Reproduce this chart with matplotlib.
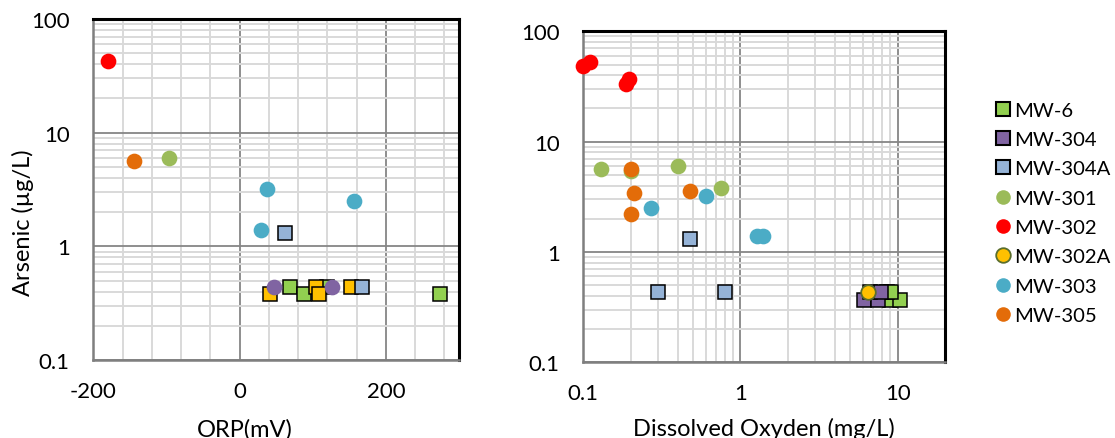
import matplotlib
matplotlib.use("Agg")
import matplotlib.pyplot as plt
from matplotlib.ticker import FixedLocator, NullFormatter, FixedFormatter
from matplotlib.lines import Line2D

plt.rcParams['font.family'] = ['Lato', 'DejaVu Sans']

# ---------------- data ----------------
# ORP (mV) vs arsenic (ug/L)
orp_mw302 = [-180]
as_orp_mw302 = [43]
orp_mw305 = [-145]
as_orp_mw305 = [5.6]
orp_mw301 = [-97]
as_orp_mw301 = [6.0]
orp_mw303 = [38, 156, 29]
as_orp_mw303 = [3.2, 2.5, 1.4]
orp_mw304a = [62, 167]
as_orp_mw304a = [1.3, 0.44]
orp_mw304 = [47, 126]
as_orp_mw304 = [0.44, 0.44]
orp_mw6 = [69, 88, 119, 274]
as_orp_mw6 = [0.44, 0.38, 0.44, 0.38]
orp_mw302a = [41, 105, 108, 153]
as_orp_mw302a = [0.38, 0.44, 0.38, 0.44]

# Dissolved oxygen (mg/L) vs arsenic (ug/L)
do_mw6 = [8.9, 10.3, 8.6, 9.1]
as_do_mw6 = [0.37, 0.37, 0.43, 0.43]
do_mw304 = [6.1, 7.5, 6.7, 7.8]
as_do_mw304 = [0.37, 0.37, 0.43, 0.43]
do_mw304a = [0.48, 0.3, 0.8]
as_do_mw304a = [1.3, 0.43, 0.43]
do_mw301 = [0.13, 0.2, 0.4, 0.75]
as_do_mw301 = [5.6, 5.4, 6.0, 3.8]
do_mw302 = [0.10, 0.11, 0.186, 0.194]
as_do_mw302 = [48, 53, 33, 37]
do_mw302a = [6.5]
as_do_mw302a = [0.43]
do_mw303 = [0.27, 0.6, 1.28, 1.39]
as_do_mw303 = [2.5, 3.2, 1.4, 1.4]
do_mw305 = [0.2, 0.21, 0.2, 0.48]
as_do_mw305 = [5.6, 3.4, 2.2, 3.6]

wells = ['MW-6', 'MW-304', 'MW-304A', 'MW-301', 'MW-302', 'MW-302A', 'MW-303', 'MW-305']
colors = {
    'MW-6': '#92d050', 'MW-304': '#8064a2', 'MW-304A': '#95b3d7',
    'MW-301': '#9bbb59', 'MW-302': '#ff0000', 'MW-302A': '#ffc000',
    'MW-303': '#4bacc6', 'MW-305': '#e36c09',
}

y_ticks = [0.1, 1, 10, 100]
y_ticklabels = ['0.1', '1', '10', '100']
orp_ticks = [-200, 0, 200]
orp_ticklabels = ['-200', '0', '200']
do_ticks = [0.1, 1, 10]
do_ticklabels = ['0.1', '1', '10']

# ---------------- style ----------------
TICK_FS = 16
LABEL_FS = 17
LEGEND_FS = 14.6
MAJOR_GRID = '#868686'
MINOR_GRID = '#d9d9d9'
SQ = dict(marker='s', markersize=10.3, markeredgecolor='black', markeredgewidth=1.1, linestyle='none')
CI = dict(marker='o', markersize=11.3, markeredgewidth=0, linestyle='none')

fig = plt.figure(figsize=(11.15, 4.39), dpi=100)
W, H = 1115, 439


def px_axes(x0, y0, x1, y1):
    return fig.add_axes([x0 / W, 1 - y1 / H, (x1 - x0) / W, (y1 - y0) / H])


def style_axes(ax):
    ax.set_yscale('log')
    ax.set_ylim(0.1, 100)
    ax.yaxis.set_major_locator(FixedLocator(y_ticks))
    ax.yaxis.set_major_formatter(FixedFormatter(y_ticklabels))
    ax.yaxis.set_minor_locator(FixedLocator([m * 10.0 ** e for e in (-1, 0, 1) for m in range(2, 10)]))
    ax.yaxis.set_minor_formatter(NullFormatter())
    ax.grid(True, which='minor', color=MINOR_GRID, linewidth=1.4, zorder=0)
    ax.grid(True, which='major', color=MAJOR_GRID, linewidth=1.3, zorder=0.5)
    ax.set_axisbelow(True)
    ax.tick_params(which='both', length=0, labelsize=TICK_FS, colors='black')
    ax.tick_params(axis='y', pad=17)
    ax.tick_params(axis='x', pad=15)
    for side in ('top', 'right'):
        ax.spines[side].set_color('black')
        ax.spines[side].set_linewidth(2.2)
    for side in ('left', 'bottom'):
        ax.spines[side].set_color('#7f7f7f')
        ax.spines[side].set_linewidth(1.8)


# ---------------- left: ORP ----------------
ax1 = px_axes(93.3, 20, 459, 361)
style_axes(ax1)
ax1.set_xlim(-200, 300)
ax1.xaxis.set_major_locator(FixedLocator(orp_ticks))
ax1.xaxis.set_major_formatter(FixedFormatter(orp_ticklabels))
ax1.xaxis.set_minor_locator(FixedLocator([-160, -120, -80, -40, 40, 80, 120, 160, 240, 280]))
ax1.xaxis.set_minor_formatter(NullFormatter())

ax1.plot(orp_mw6, as_orp_mw6, color=colors['MW-6'], zorder=3, **SQ)
ax1.plot(orp_mw302a, as_orp_mw302a, color=colors['MW-302A'], zorder=3.1, **SQ)
ax1.plot(orp_mw304a, as_orp_mw304a, color=colors['MW-304A'], zorder=3.2, **SQ)
ax1.plot(orp_mw304, as_orp_mw304, color=colors['MW-304'], zorder=4, **CI)
ax1.plot(orp_mw301, as_orp_mw301, color=colors['MW-301'], zorder=4, **CI)
ax1.plot(orp_mw302, as_orp_mw302, color=colors['MW-302'], zorder=4, **CI)
ax1.plot(orp_mw303, as_orp_mw303, color=colors['MW-303'], zorder=4, **CI)
ax1.plot(orp_mw305, as_orp_mw305, color=colors['MW-305'], zorder=4, **CI)

# ---------------- right: dissolved oxygen ----------------
ax2 = px_axes(583.3, 32.3, 945, 363.3)
style_axes(ax2)
ax2.set_xscale('log')
ax2.set_xlim(0.1, 20)
ax2.xaxis.set_major_locator(FixedLocator(do_ticks))
ax2.xaxis.set_major_formatter(FixedFormatter(do_ticklabels))
ax2.xaxis.set_minor_locator(FixedLocator([m * 10.0 ** e for e in (-1, 0) for m in range(2, 10)]))
ax2.xaxis.set_minor_formatter(NullFormatter())

h = {}
h['MW-6'], = ax2.plot(do_mw6, as_do_mw6, color=colors['MW-6'], zorder=3, label='MW-6', **SQ)
h['MW-304'], = ax2.plot(do_mw304, as_do_mw304, color=colors['MW-304'], zorder=3.1, label='MW-304', **SQ)
h['MW-304A'], = ax2.plot(do_mw304a, as_do_mw304a, color=colors['MW-304A'], zorder=3.2, label='MW-304A', **SQ)
h['MW-301'], = ax2.plot(do_mw301, as_do_mw301, color=colors['MW-301'], zorder=4, label='MW-301', **CI)
h['MW-302'], = ax2.plot(do_mw302, as_do_mw302, color=colors['MW-302'], zorder=4, label='MW-302', clip_on=False, **CI)
h['MW-302A'], = ax2.plot(do_mw302a, as_do_mw302a, color=colors['MW-302A'], zorder=4.5, label='MW-302A',
                         marker='o', markersize=10.5, markeredgecolor='#5a6e2c', markeredgewidth=1.3, linestyle='none')
h['MW-303'], = ax2.plot(do_mw303, as_do_mw303, color=colors['MW-303'], zorder=4, label='MW-303', **CI)
h['MW-305'], = ax2.plot(do_mw305, as_do_mw305, color=colors['MW-305'], zorder=4.2, label='MW-305', **CI)

# ---------------- labels ----------------
fig.text(23 / W, 1 - 223 / H, 'Arsenic (µg/L)', rotation=90, ha='center', va='center', fontsize=LABEL_FS)
fig.text(244.7 / W, 1 - 436.5 / H, 'ORP(mV)', ha='center', va='baseline', fontsize=LABEL_FS)
fig.text(764 / W, 1 - 436.5 / H, 'Dissolved Oxyden (mg/L)', ha='center', va='baseline', fontsize=LABEL_FS)

# ---------------- legend ----------------
leg_handles = []
for w in wells:
    src = h[w]
    is_sq = src.get_marker() == 's'
    leg_handles.append(Line2D([], [], linestyle='none', marker=src.get_marker(),
                              markersize=9.5 if is_sq else 10.5,
                              markerfacecolor=src.get_markerfacecolor(),
                              markeredgecolor=src.get_markeredgecolor(),
                              markeredgewidth=src.get_markeredgewidth() + (0.4 if is_sq else 0)))
hl = 0.9
fs_px = LEGEND_FS * 100 / 72
fig.legend(leg_handles, wells, loc='upper left',
           bbox_to_anchor=((1002.7 - hl * fs_px / 2) / W, 1 - 102.5 / H),
           frameon=False, fontsize=LEGEND_FS, handlelength=hl,
           handletextpad=(1014.5 - 1002.7 - hl * fs_px / 2) / fs_px,
           labelspacing=0.6, borderpad=0, borderaxespad=0)

fig.savefig('out.png', dpi=100)
